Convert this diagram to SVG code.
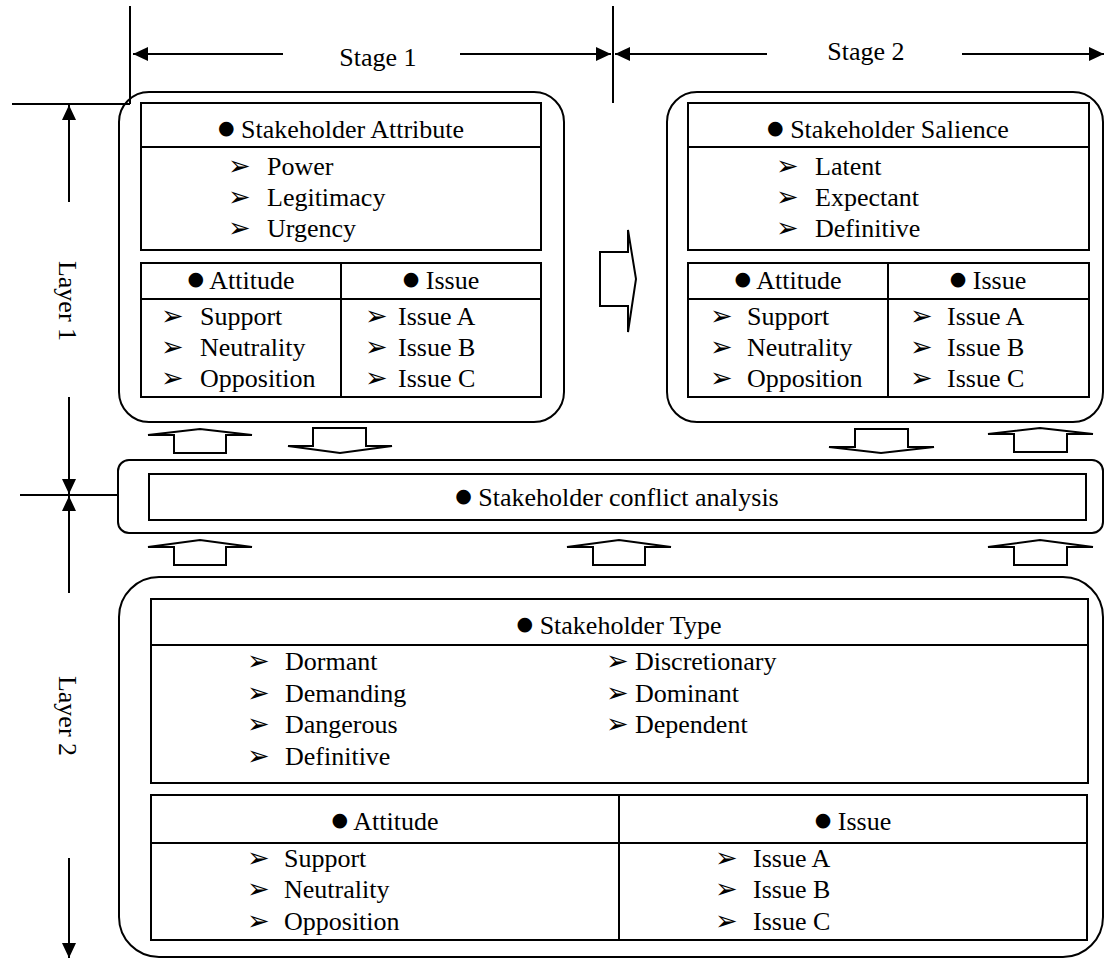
<svg xmlns="http://www.w3.org/2000/svg" width="1105" height="959" viewBox="0 0 1105 959">
<style>
.t{font-family:"Liberation Serif","Times New Roman",serif;font-size:26px;fill:#000}
.c{text-anchor:middle}
.ar{font-family:"DejaVu Sans",sans-serif;font-size:27px}
.bu{font-family:"DejaVu Sans",sans-serif;font-size:19px}
.bx{fill:none;stroke:#000;stroke-width:2}
.ln{fill:none;stroke:#000;stroke-width:2}
.ha{fill:#fff;stroke:#000;stroke-width:2;stroke-linejoin:miter}
</style>
<defs>
<marker id="ah" markerUnits="userSpaceOnUse" markerWidth="16" markerHeight="14" refX="15" refY="7" orient="auto">
<path d="M0,0 L15,7 L0,14 z" fill="#000"/>
</marker>
</defs>
<rect width="1105" height="959" fill="#fff"/>

<g id="connectors">
<line class="ln" x1="130" y1="6" x2="130" y2="104"/>
<line class="ln" x1="12" y1="104" x2="130" y2="104"/>
<line class="ln" x1="613" y1="6" x2="613" y2="103"/>
<line class="ln" x1="20" y1="495" x2="118" y2="495"/>
<line class="ln" x1="283" y1="54" x2="133" y2="54" marker-end="url(#ah)"/>
<line class="ln" x1="460" y1="54" x2="611" y2="54" marker-end="url(#ah)"/>
<line class="ln" x1="767" y1="54" x2="615" y2="54" marker-end="url(#ah)"/>
<line class="ln" x1="962" y1="54" x2="1104" y2="54" marker-end="url(#ah)"/>
<line class="ln" x1="69" y1="202" x2="69" y2="105" marker-end="url(#ah)"/>
<line class="ln" x1="69" y1="397" x2="69" y2="494" marker-end="url(#ah)"/>
<line class="ln" x1="69" y1="593" x2="69" y2="496" marker-end="url(#ah)"/>
<line class="ln" x1="69" y1="858" x2="69" y2="958" marker-end="url(#ah)"/>
<polygon class="ha" points="600,252 628,252 628,230 636,279 628,332 628,306 600,306"/>
<polygon class="ha" points="174,453 174,435 148,435 200,429 252,435 226,435 226,453"/>
<polygon class="ha" points="313,428 313,446 288,446 340,453 392,446 366,446 366,428"/>
<polygon class="ha" points="855,429 855,447 829,447 881,453 934,447 908,447 908,429"/>
<polygon class="ha" points="1014,452 1014,434 988,434 1040,428 1093,434 1067,434 1067,452"/>
<polygon class="ha" points="174,565 174,547 148,547 200,540 252,547 226,547 226,565"/>
<polygon class="ha" points="593,565 593,547 567,547 619,540 671,547 645,547 645,565"/>
<polygon class="ha" points="1014,565 1014,547 988,547 1040,540 1093,547 1067,547 1067,565"/>
</g>

<g id="labels">
<text class="t c" x="378" y="66">Stage 1</text>
<text class="t c" x="866" y="60">Stage 2</text>
<text class="t c" transform="translate(68,301) rotate(90)" y="9">Layer 1</text>
<text class="t c" transform="translate(68,716) rotate(90)" y="9">Layer 2</text>
</g>

<g id="stage1">
<rect class="bx" x="119" y="92" width="445" height="330" rx="30"/>
<rect class="bx" x="141" y="103" width="400" height="147"/>
<line class="ln" x1="141" y1="147" x2="541" y2="147"/>
<rect class="bx" x="141" y="263" width="400" height="134"/>
<line class="ln" x1="141" y1="299" x2="541" y2="299"/>
<line class="ln" x1="341" y1="263" x2="341" y2="397"/>
<text class="t c" x="341" y="138"><tspan class="bu" dy="-4">●</tspan><tspan dy="4"> Stakeholder Attribute</tspan></text>
<text class="t" y="175"><tspan class="ar" x="228">➢</tspan><tspan x="267">Power</tspan></text>
<text class="t" y="206"><tspan class="ar" x="228">➢</tspan><tspan x="267">Legitimacy</tspan></text>
<text class="t" y="237"><tspan class="ar" x="228">➢</tspan><tspan x="267">Urgency</tspan></text>
<text class="t c" x="241" y="289"><tspan class="bu" dy="-4">●</tspan><tspan dy="4"> Attitude</tspan></text>
<text class="t c" x="441" y="289"><tspan class="bu" dy="-4">●</tspan><tspan dy="4"> Issue</tspan></text>
<text class="t" y="325"><tspan class="ar" x="161">➢</tspan><tspan x="200">Support</tspan></text>
<text class="t" y="356"><tspan class="ar" x="161">➢</tspan><tspan x="200">Neutrality</tspan></text>
<text class="t" y="387"><tspan class="ar" x="161">➢</tspan><tspan x="200">Opposition</tspan></text>
<text class="t" y="325"><tspan class="ar" x="365">➢</tspan><tspan x="398">Issue A</tspan></text>
<text class="t" y="356"><tspan class="ar" x="365">➢</tspan><tspan x="398">Issue B</tspan></text>
<text class="t" y="387"><tspan class="ar" x="365">➢</tspan><tspan x="398">Issue C</tspan></text>
</g>

<g id="stage2">
<rect class="bx" x="667" y="92" width="436" height="330" rx="30"/>
<rect class="bx" x="688" y="103" width="401" height="147"/>
<line class="ln" x1="688" y1="147" x2="1089" y2="147"/>
<rect class="bx" x="688" y="263" width="401" height="134"/>
<line class="ln" x1="688" y1="299" x2="1089" y2="299"/>
<line class="ln" x1="888" y1="263" x2="888" y2="397"/>
<text class="t c" x="888" y="138"><tspan class="bu" dy="-4">●</tspan><tspan dy="4"> Stakeholder Salience</tspan></text>
<text class="t" y="175"><tspan class="ar" x="776">➢</tspan><tspan x="815">Latent</tspan></text>
<text class="t" y="206"><tspan class="ar" x="776">➢</tspan><tspan x="815">Expectant</tspan></text>
<text class="t" y="237"><tspan class="ar" x="776">➢</tspan><tspan x="815">Definitive</tspan></text>
<text class="t c" x="788" y="289"><tspan class="bu" dy="-4">●</tspan><tspan dy="4"> Attitude</tspan></text>
<text class="t c" x="988" y="289"><tspan class="bu" dy="-4">●</tspan><tspan dy="4"> Issue</tspan></text>
<text class="t" y="325"><tspan class="ar" x="710">➢</tspan><tspan x="747">Support</tspan></text>
<text class="t" y="356"><tspan class="ar" x="710">➢</tspan><tspan x="747">Neutrality</tspan></text>
<text class="t" y="387"><tspan class="ar" x="710">➢</tspan><tspan x="747">Opposition</tspan></text>
<text class="t" y="325"><tspan class="ar" x="910">➢</tspan><tspan x="947">Issue A</tspan></text>
<text class="t" y="356"><tspan class="ar" x="910">➢</tspan><tspan x="947">Issue B</tspan></text>
<text class="t" y="387"><tspan class="ar" x="910">➢</tspan><tspan x="947">Issue C</tspan></text>
</g>

<g id="conflict">
<rect class="bx" x="118" y="460" width="985" height="73" rx="11"/>
<rect class="bx" x="149" y="474" width="937" height="46"/>
<text class="t c" x="617" y="506"><tspan class="bu" dy="-4">●</tspan><tspan dy="4"> Stakeholder conflict analysis</tspan></text>
</g>

<g id="layer2">
<rect class="bx" x="119" y="577" width="984" height="380" rx="40"/>
<rect class="bx" x="151" y="599" width="937" height="184"/>
<line class="ln" x1="151" y1="645" x2="1088" y2="645"/>
<text class="t c" x="619" y="634"><tspan class="bu" dy="-4">●</tspan><tspan dy="4"> Stakeholder Type</tspan></text>
<text class="t" y="670"><tspan class="ar" x="247">➢</tspan><tspan x="285">Dormant</tspan></text>
<text class="t" y="702"><tspan class="ar" x="247">➢</tspan><tspan x="285">Demanding</tspan></text>
<text class="t" y="733"><tspan class="ar" x="247">➢</tspan><tspan x="285">Dangerous</tspan></text>
<text class="t" y="765"><tspan class="ar" x="247">➢</tspan><tspan x="285">Definitive</tspan></text>
<text class="t" y="670"><tspan class="ar" x="606">➢</tspan><tspan x="635">Discretionary</tspan></text>
<text class="t" y="702"><tspan class="ar" x="606">➢</tspan><tspan x="635">Dominant</tspan></text>
<text class="t" y="733"><tspan class="ar" x="606">➢</tspan><tspan x="635">Dependent</tspan></text>
<rect class="bx" x="151" y="795" width="936" height="145"/>
<line class="ln" x1="151" y1="843" x2="1087" y2="843"/>
<line class="ln" x1="619" y1="795" x2="619" y2="940"/>
<text class="t c" x="385" y="830"><tspan class="bu" dy="-4">●</tspan><tspan dy="4"> Attitude</tspan></text>
<text class="t c" x="853" y="830"><tspan class="bu" dy="-4">●</tspan><tspan dy="4"> Issue</tspan></text>
<text class="t" y="867"><tspan class="ar" x="247">➢</tspan><tspan x="284">Support</tspan></text>
<text class="t" y="898"><tspan class="ar" x="247">➢</tspan><tspan x="284">Neutrality</tspan></text>
<text class="t" y="930"><tspan class="ar" x="247">➢</tspan><tspan x="284">Opposition</tspan></text>
<text class="t" y="867"><tspan class="ar" x="715">➢</tspan><tspan x="753">Issue A</tspan></text>
<text class="t" y="898"><tspan class="ar" x="715">➢</tspan><tspan x="753">Issue B</tspan></text>
<text class="t" y="930"><tspan class="ar" x="715">➢</tspan><tspan x="753">Issue C</tspan></text>
</g>
</svg>
